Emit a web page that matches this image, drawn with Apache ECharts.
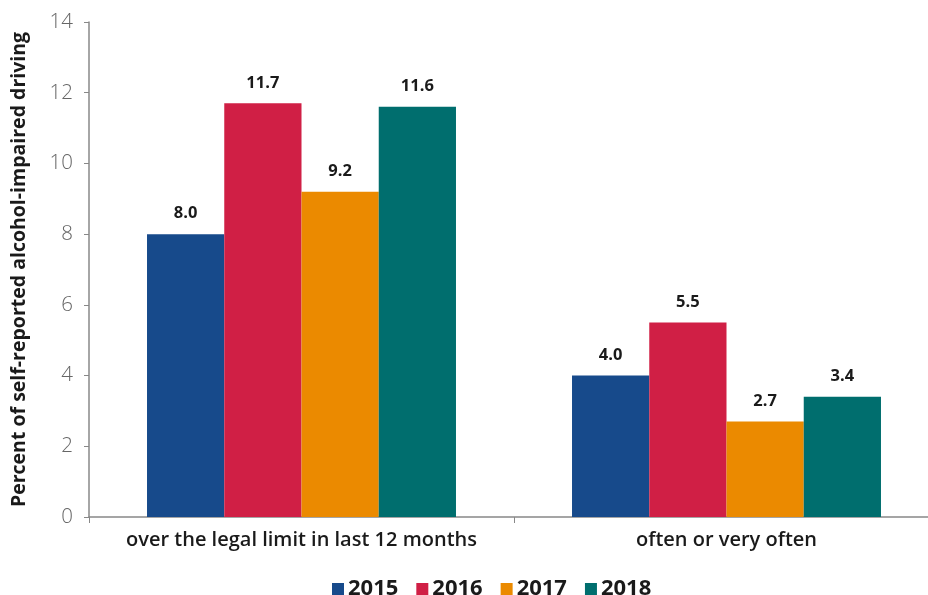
<!DOCTYPE html>
<html><head><meta charset="utf-8">
<script src="https://cdn.jsdelivr.net/npm/echarts@6/dist/echarts.min.js"></script>
<style>html,body{margin:0;padding:0;background:#fff}#c{width:928px;height:595px}</style>
</head><body><div id="c"></div>
<script>
const categories = ['over the legal limit in last 12 months', 'often or very often'];
const years = ['2015', '2016', '2017', '2018'];
const v2015 = [8.0, 4.0];
const v2016 = [11.7, 5.5];
const v2017 = [9.2, 2.7];
const v2018 = [11.6, 3.4];
const colors = ['#174A8B', '#D01F45', '#EB8A00', '#006E6E'];
const values = [v2015, v2016, v2017, v2018];
const font = '"Open Sans", "Noto Sans", sans-serif';

const chart = echarts.init(document.getElementById('c'));
chart.setOption({
  animation: false,
  grid: { left: 89, width: 850, top: 22, height: 495, outerBoundsMode: 'none', containLabel: false },
  legend: {
    top: 573, left: 327,
    itemWidth: 12, itemHeight: 12, itemGap: 18,
    icon: 'rect',
    textStyle: { fontFamily: font, fontSize: 22, fontWeight: 'bold', color: '#1a1a1a', padding: [0,0,0,-1] },
    data: years
  },
  xAxis: {
    type: 'category', data: categories,
    axisLine: { lineStyle: { color: '#888', width: 1.5 } },
    axisTick: { show: true, interval: 0, length: 6, lineStyle: { color: '#888' } },
    axisLabel: { interval: 0, hideOverlap: false, fontFamily: font, fontSize: 20, color: '#1a1a1a', fontWeight: 600, margin: 13 }
  },
  yAxis: {
    type: 'value', min: 0, max: 14, interval: 2,
    name: 'Percent of self-reported alcohol-impaired driving',
    nameLocation: 'middle', nameGap: 60,
    nameTextStyle: { fontFamily: font, fontSize: 19.5, fontWeight: 'bold', color: '#1a1a1a' },
    axisLine: { show: true, lineStyle: { color: '#888', width: 1.5 } },
    axisTick: { show: true, length: 5, lineStyle: { color: '#888' } },
    splitLine: { show: false },
    axisLabel: { fontFamily: font, fontSize: 20.5, fontWeight: 300, color: '#666', margin: 16 }
  },
  series: years.map((y, i) => ({
    name: y, type: 'bar', data: values[i],
    barGap: '0%', barCategoryGap: '27.3%',
    itemStyle: { color: colors[i] },
    label: {
      show: true, position: 'top', distance: 12,
      fontFamily: font, fontSize: 16.5, fontWeight: 'bold', color: '#1a1a1a',
      formatter: p => p.value.toFixed(1)
    }
  }))
});
</script></body></html>
